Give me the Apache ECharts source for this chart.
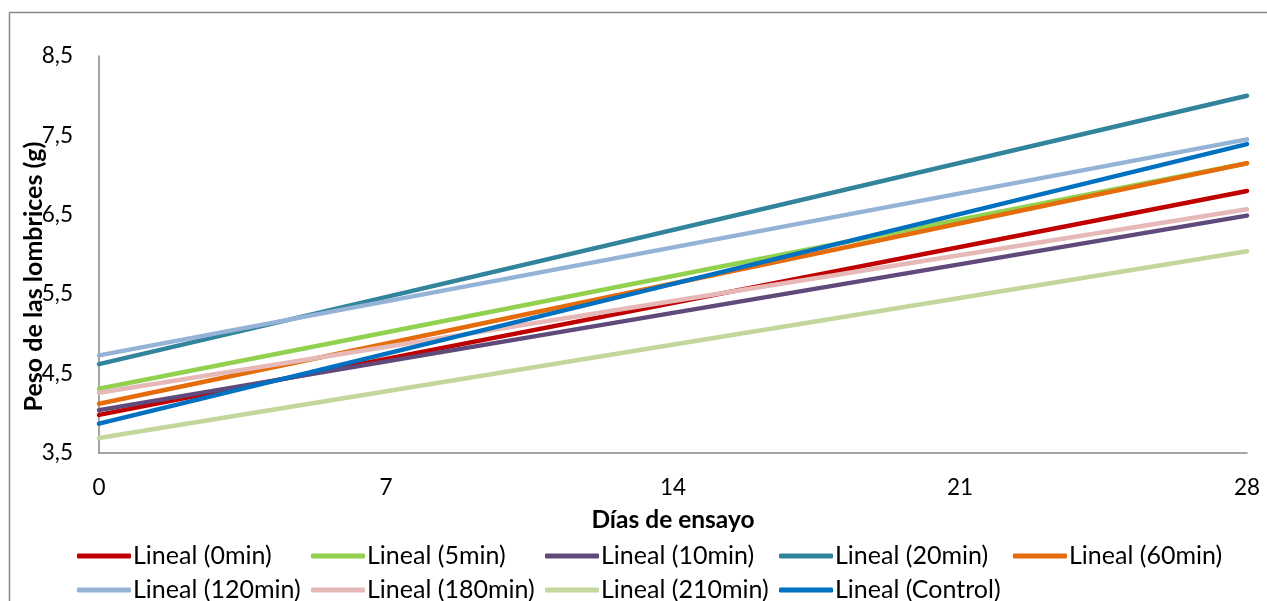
<!DOCTYPE html>
<html>
<head>
<meta charset="utf-8">
<script src="https://cdn.jsdelivr.net/npm/echarts@6/dist/echarts.min.js"></script>
<style>
html,body{margin:0;padding:0;background:#fff;}
#c{width:1267px;height:601px;}
</style>
</head>
<body>
<div id="c"></div>
<script>
// Days of trial (x) for the two ends of each linear trend line
var days = [0, 28];
var xTicks = [0, 7, 14, 21, 28];
var yTicks = [3.5, 4.5, 5.5, 6.5, 7.5, 8.5];
var seriesNames = ['Lineal (0min)', 'Lineal (5min)', 'Lineal (10min)', 'Lineal (20min)', 'Lineal (60min)',
                   'Lineal (120min)', 'Lineal (180min)', 'Lineal (210min)', 'Lineal (Control)'];
// weight values (g) at day 0 and day 28
var w0min   = [3.98, 6.80];
var w5min   = [4.31, 7.15];
var w10min  = [4.04, 6.49];
var w20min  = [4.62, 8.00];
var w60min  = [4.12, 7.15];
var w120min = [4.73, 7.45];
var w180min = [4.26, 6.57];
var w210min = [3.69, 6.04];
var wControl = [3.87, 7.39];
var colors = ['#C00000', '#92D050', '#604A7B', '#31849B', '#E46C0A', '#95B3D7', '#E6B9B8', '#C3D69B', '#0070C0'];

var allValues = [w0min, w5min, w10min, w20min, w60min, w120min, w180min, w210min, wControl];
var FONT = 'Lato, "Open Sans", sans-serif';

var series = seriesNames.map(function (name, i) {
  return {
    name: name,
    type: 'line',
    symbol: 'none',
    data: days.map(function (d, j) { return [d, allValues[i][j]]; }),
    lineStyle: { width: 4.5, color: colors[i], cap: 'round' },
    itemStyle: { color: colors[i] },
    emphasis: { disabled: true },
    animation: false
  };
});

var chart = echarts.init(document.getElementById('c'), null, { renderer: 'canvas' });
chart.setOption({
  animation: false,
  backgroundColor: '#fff',
  grid: { left: 99, right: 20, top: 56, bottom: 148, containLabel: false },
  xAxis: {
    type: 'value', min: 0, max: 28, interval: 7,
    name: 'Días de ensayo', nameLocation: 'middle', nameGap: 55, nameMoveOverlap: false,
    nameTextStyle: { fontFamily: FONT, fontWeight: 'bold', fontSize: 24.5, color: '#000' },
    axisLine: { show: true, lineStyle: { color: '#868686', width: 1.5 } },
    axisTick: { show: false },
    splitLine: { show: false },
    axisLabel: { fontFamily: FONT, fontSize: 22.5, color: '#000', margin: 23 }
  },
  yAxis: {
    type: 'value', min: 3.5, max: 8.5, interval: 1,
    name: 'Peso de las lombrices (g)', nameLocation: 'middle', nameGap: 53, nameRotate: 90,
    nameMoveOverlap: false,
    nameTextStyle: { fontFamily: FONT, fontWeight: 'bold', fontSize: 25, color: '#000', padding: [0, 44, 0, 0] },
    axisLine: { show: true, lineStyle: { color: '#868686', width: 1.5 } },
    axisTick: { show: false },
    splitLine: { show: false },
    axisLabel: {
      fontFamily: FONT, fontSize: 22.5, color: '#000', margin: 26,
      formatter: function (v) { return String(v).replace('.', ','); }
    }
  },
  legend: {
    left: 77, top: 539, width: 1190, padding: 0,
    itemGap: 0, itemWidth: 54, itemHeight: 5, icon: 'roundRect',
    textStyle: { fontFamily: FONT, fontSize: 25, color: '#000', width: 178, lineHeight: 34, padding: [0, 0, 0, -3] },
    data: seriesNames
  },
  graphic: [{
    type: 'rect', shape: { x: 9.5, y: 12.5, width: 1400, height: 800 },
    style: { fill: null, stroke: '#898989', lineWidth: 1.5 }, silent: true, z: -1
  }],
  series: series
});
</script>
</body>
</html>
